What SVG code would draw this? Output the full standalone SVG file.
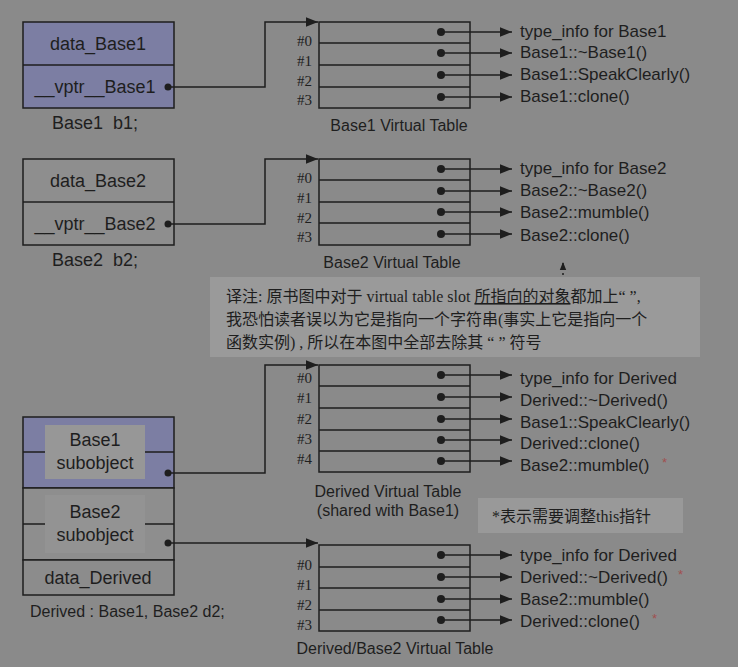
<svg xmlns="http://www.w3.org/2000/svg" width="738" height="667" viewBox="0 0 738 667">
<style>
text{font-family:"Liberation Sans",Arial,sans-serif;font-size:16px;fill:#1e1e1e}
.b{font-size:18px}
.r{font-size:17px}
.h{font-family:"Liberation Serif","Times New Roman",serif;font-size:15px}
.cn{font-family:"Liberation Serif","Noto Sans CJK SC",serif;font-size:16px}
.box{stroke:#1e1e1e;stroke-width:1.5}
.ln{stroke:#1e1e1e;stroke-width:1.5;fill:none}
.st{fill:#a05050;font-size:13px}
</style>
<defs>
<marker id="a" viewBox="0 0 10 10" refX="10" refY="5" markerWidth="8" markerHeight="8" markerUnits="userSpaceOnUse" orient="auto"><path d="M0,1L10,5L0,9z" fill="#1e1e1e"/></marker>
<marker id="a2" viewBox="0 0 10 10" refX="10" refY="5" markerWidth="16" markerHeight="12" markerUnits="userSpaceOnUse" orient="auto"><path d="M0,1L10,5L0,9z" fill="#1e1e1e"/></marker>
</defs>
<rect width="738" height="667" fill="#8a8a8a"/>
<g id="base1">
<rect x="23" y="22" width="151" height="86" fill="#7c7ea3" class="box"/>
<line x1="23" y1="65" x2="174" y2="65" class="ln"/>
<text class="b" x="98" y="50" text-anchor="middle">data_Base1</text>
<text class="b" x="95" y="93" text-anchor="middle">__vptr__Base1</text>
<circle cx="168" cy="87" r="3.5" fill="#1e1e1e"/>
<text class="b" x="52" y="129" xml:space="preserve">Base1  b1;</text>
</g>
<g id="base2">
<rect x="23" y="159" width="151" height="86" fill="#8e8e8e" class="box"/>
<line x1="23" y1="202" x2="174" y2="202" class="ln"/>
<text class="b" x="98" y="187" text-anchor="middle">data_Base2</text>
<text class="b" x="95" y="230" text-anchor="middle">__vptr__Base2</text>
<circle cx="168" cy="224" r="3.5" fill="#1e1e1e"/>
<text class="b" x="52" y="266" xml:space="preserve">Base2  b2;</text>
</g>
<g id="vt1">
<rect x="319" y="22" width="151" height="86" fill="none" class="box"/>
<path d="M319 43H470M319 65H470M319 87H470" class="ln"/>
<text class="h" x="297" y="46">#0</text><text class="h" x="297" y="66">#1</text><text class="h" x="297" y="86">#2</text><text class="h" x="297" y="105">#3</text>
<text x="399" y="131" text-anchor="middle" font-size="15">Base1 Virtual Table</text>
<text class="r" x="520" y="37">type_info for Base1</text>
<text class="r" x="520" y="58">Base1::~Base1()</text>
<text class="r" x="520" y="80">Base1::SpeakClearly()</text>
<text class="r" x="520" y="102">Base1::clone()</text>
</g>
<g id="vt2">
<rect x="319" y="159" width="151" height="86" fill="none" class="box"/>
<path d="M319 180H470M319 202H470M319 223H470" class="ln"/>
<text class="h" x="297" y="183">#0</text><text class="h" x="297" y="203">#1</text><text class="h" x="297" y="223">#2</text><text class="h" x="297" y="242">#3</text>
<text x="392" y="268" text-anchor="middle" font-size="15">Base2 Virtual Table</text>
<text class="r" x="520" y="174">type_info for Base2</text>
<text class="r" x="520" y="196">Base2::~Base2()</text>
<text class="r" x="520" y="218">Base2::mumble()</text>
<text class="r" x="520" y="241">Base2::clone()</text>
</g>
<g id="note">
<rect x="210" y="277" width="490" height="80" fill="#9a9a9a"/>
<text class="cn" x="226" y="302">译注: 原书图中对于 virtual table slot <tspan text-decoration="underline">所指向的对象</tspan>都加上“ ”,</text>
<text class="cn" x="226" y="325">我恐怕读者误以为它是指向一个字符串(事实上它是指向一个</text>
<text class="cn" x="226" y="348">函数实例) , 所以在本图中全部去除其 “ ” 符号</text>
</g>
<g id="derived">
<rect x="23" y="417" width="151" height="71" fill="#7c7ea3" class="box"/>
<rect x="23" y="488" width="151" height="72" fill="#8e8e8e" class="box"/>
<rect x="23" y="560" width="151" height="35" fill="#8c8c8c" class="box"/>
<path d="M23 452H45M145 452H174M23 524H45M145 524H174" class="ln"/>
<rect x="45" y="425" width="100" height="54" fill="#979797"/>
<rect x="45" y="495" width="100" height="58" fill="#939393"/>
<text class="b" x="95" y="446" text-anchor="middle">Base1</text>
<text class="b" x="95" y="469" text-anchor="middle">subobject</text>
<text class="b" x="95" y="518" text-anchor="middle">Base2</text>
<text class="b" x="95" y="541" text-anchor="middle">subobject</text>
<text class="b" x="98" y="584" text-anchor="middle">data_Derived</text>
<circle cx="168" cy="473" r="3.5" fill="#1e1e1e"/>
<circle cx="168" cy="543" r="3.5" fill="#1e1e1e"/>
<text x="30" y="617" font-size="15">Derived : Base1, Base2 d2;</text>
</g>
<g id="vt3">
<rect x="319" y="365" width="151" height="107" fill="none" class="box"/>
<path d="M319 386H470M319 408H470M319 430H470M319 451H470" class="ln"/>
<text class="h" x="297" y="383">#0</text><text class="h" x="297" y="403">#1</text><text class="h" x="297" y="424">#2</text><text class="h" x="297" y="444">#3</text><text class="h" x="297" y="464">#4</text>
<text x="388" y="497" text-anchor="middle">Derived Virtual Table</text>
<text x="388" y="516" text-anchor="middle">(shared with Base1)</text>
<text class="r" x="520" y="384">type_info for Derived</text>
<text class="r" x="520" y="406">Derived::~Derived()</text>
<text class="r" x="520" y="428">Base1::SpeakClearly()</text>
<text class="r" x="520" y="449">Derived::clone()</text>
<text class="r" x="520" y="471">Base2::mumble()</text>
<text class="st" x="662" y="467">*</text>
</g>
<g id="starnote">
<rect x="478" y="498" width="205" height="35" fill="#999999"/>
<text class="cn" x="492" y="522">*表示需要调整this指针</text>
</g>
<g id="vt4">
<rect x="319" y="545" width="151" height="86" fill="none" class="box"/>
<path d="M319 567H470M319 588H470M319 610H470" class="ln"/>
<text class="h" x="297" y="570">#0</text><text class="h" x="297" y="590">#1</text><text class="h" x="297" y="610">#2</text><text class="h" x="297" y="630">#3</text>
<text x="395" y="654" text-anchor="middle" font-size="15">Derived/Base2 Virtual Table</text>
<text class="r" x="520" y="561">type_info for Derived</text>
<text class="r" x="520" y="583">Derived::~Derived()</text>
<text class="r" x="520" y="605">Base2::mumble()</text>
<text class="r" x="520" y="627">Derived::clone()</text>
<text class="st" x="678" y="579">*</text>
<text class="st" x="652" y="623">*</text>
</g>
<g id="connectors" fill="#1e1e1e">
<path d="M170 87H265V22H318" class="ln" marker-end="url(#a2)"/>
<path d="M170 224H265V159H318" class="ln" marker-end="url(#a2)"/>
<path d="M170 473H265V365H318" class="ln" marker-end="url(#a2)"/>
<path d="M170 543H318" class="ln" marker-end="url(#a2)"/>
<path d="M563 275V262" class="ln" stroke-dasharray="2 3" marker-end="url(#a)"/>
<circle cx="441" cy="32" r="4"/><circle cx="441" cy="53" r="4"/><circle cx="441" cy="75" r="4"/><circle cx="441" cy="97" r="4"/>
<path d="M441 32H512" class="ln" marker-end="url(#a2)"/><path d="M441 53H512" class="ln" marker-end="url(#a2)"/><path d="M441 75H512" class="ln" marker-end="url(#a2)"/><path d="M441 97H512" class="ln" marker-end="url(#a2)"/>
<circle cx="441" cy="169" r="4"/><circle cx="441" cy="191" r="4"/><circle cx="441" cy="212" r="4"/><circle cx="441" cy="234" r="4"/>
<path d="M441 169H512" class="ln" marker-end="url(#a2)"/><path d="M441 191H512" class="ln" marker-end="url(#a2)"/><path d="M441 212H512" class="ln" marker-end="url(#a2)"/><path d="M441 234H512" class="ln" marker-end="url(#a2)"/>
<circle cx="441" cy="375" r="4"/><circle cx="441" cy="397" r="4"/><circle cx="441" cy="419" r="4"/><circle cx="441" cy="440" r="4"/><circle cx="441" cy="461" r="4"/>
<path d="M441 375H512" class="ln" marker-end="url(#a2)"/><path d="M441 397H512" class="ln" marker-end="url(#a2)"/><path d="M441 419H512" class="ln" marker-end="url(#a2)"/><path d="M441 440H512" class="ln" marker-end="url(#a2)"/><path d="M441 461H512" class="ln" marker-end="url(#a2)"/>
<circle cx="441" cy="555" r="4"/><circle cx="441" cy="577" r="4"/><circle cx="441" cy="599" r="4"/><circle cx="441" cy="620" r="4"/>
<path d="M441 555H512" class="ln" marker-end="url(#a2)"/><path d="M441 577H512" class="ln" marker-end="url(#a2)"/><path d="M441 599H512" class="ln" marker-end="url(#a2)"/><path d="M441 620H512" class="ln" marker-end="url(#a2)"/>
</g>
</svg>
